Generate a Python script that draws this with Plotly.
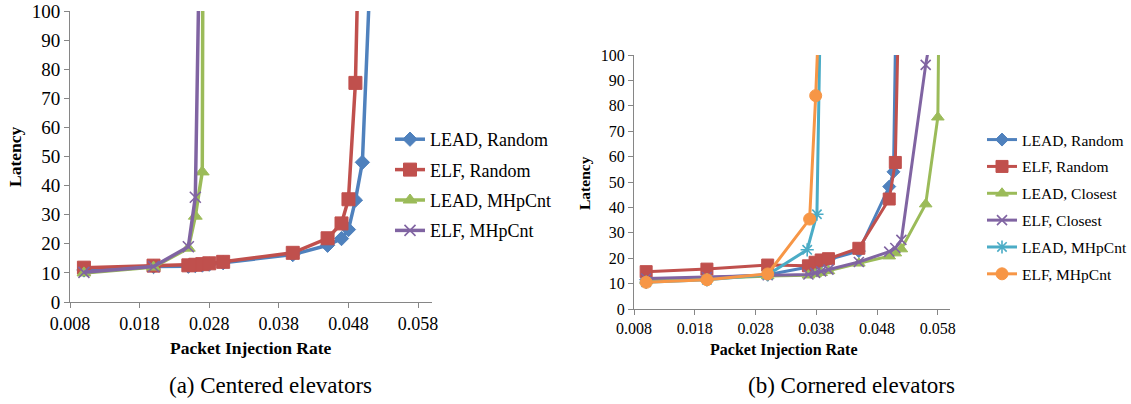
import plotly.graph_objects as go

W, H = 1131, 404
def fx(p): return p / W
def fy(p): return 1 - p / H

FONT = "'Liberation Serif', 'Times New Roman', Times, 'DejaVu Serif', serif"
BLUE, RED, GREEN, PURPLE, TEAL, ORANGE = "#4F81BD", "#C0504D", "#9BBB59", "#8064A2", "#4BACC6", "#F79646"
AX = "#868686"

# ---------------- (a) Centered elevators ----------------
a_lead_random_x = [0.010, 0.020, 0.025, 0.026, 0.027, 0.028, 0.030, 0.040, 0.045, 0.047, 0.048, 0.049, 0.050, 0.051]
a_lead_random_y = [11.0, 12.2, 12.3, 12.5, 12.7, 13.0, 13.5, 16.3, 19.5, 21.8, 24.9, 35.0, 48.0, 106]
a_elf_random_x = [0.010, 0.020, 0.025, 0.026, 0.027, 0.028, 0.030, 0.040, 0.045, 0.047, 0.048, 0.049, 0.050]
a_elf_random_y = [11.8, 12.5, 12.6, 12.8, 13.0, 13.3, 13.8, 16.9, 21.9, 27.0, 35.3, 75.3, 180]
a_lead_mhp_x = [0.010, 0.020, 0.025, 0.026, 0.027, 0.028]
a_lead_mhp_y = [10.0, 12.0, 18.5, 29.5, 44.7, 900]
a_elf_mhp_x = [0.010, 0.020, 0.025, 0.026, 0.027]
a_elf_mhp_y = [10.2, 12.2, 19.0, 36.0, 180]

# ---------------- (b) Cornered elevators ----------------
b_lead_random_x = [0.010, 0.020, 0.030, 0.0367, 0.0378, 0.0388, 0.040, 0.045, 0.050, 0.0507, 0.0515]
b_lead_random_y = [11.5, 12.3, 13.5, 16.5, 17.5, 18.5, 19.5, 22.8, 48.2, 54.0, 180]
b_elf_random_x = [0.010, 0.020, 0.030, 0.0367, 0.0378, 0.0388, 0.040, 0.045, 0.050, 0.051, 0.052]
b_elf_random_y = [14.7, 15.7, 17.3, 17.0, 18.4, 19.3, 19.8, 23.9, 43.3, 57.7, 170]
b_lead_closest_x = [0.010, 0.020, 0.030, 0.0367, 0.0378, 0.0388, 0.040, 0.045, 0.050, 0.051, 0.052, 0.056, 0.058, 0.059]
b_lead_closest_y = [11.0, 12.0, 13.0, 13.3, 13.8, 14.3, 15.0, 18.0, 20.8, 22.0, 23.6, 41.3, 75.5, 320]
b_elf_closest_x = [0.010, 0.020, 0.030, 0.0367, 0.0378, 0.0388, 0.040, 0.045, 0.050, 0.051, 0.052, 0.056, 0.057]
b_elf_closest_y = [12.0, 12.6, 13.3, 13.6, 14.2, 14.8, 15.5, 18.5, 22.6, 24.0, 27.2, 96.1, 110]
b_lead_mhp_x = [0.010, 0.020, 0.030, 0.0365, 0.0381, 0.039]
b_lead_mhp_y = [10.5, 11.5, 13.5, 23.3, 37.3, 165]
b_elf_mhp_x = [0.010, 0.020, 0.030, 0.0369, 0.0379, 0.039]
b_elf_mhp_y = [10.5, 11.5, 13.8, 35.4, 84.0, 150]

x_tickvals = [0.008, 0.018, 0.028, 0.038, 0.048, 0.058]
x_ticktext = ["0.008", "0.018", "0.028", "0.038", "0.048", "0.058"]
y_tickvals = [0, 10, 20, 30, 40, 50, 60, 70, 80, 90, 100]

def marker_style(sym, color, size):
    m = dict(symbol=sym, color=color, size=size, line=dict(color=color, width=1))
    if sym in ("x-thin", "asterisk"):
        m["line"] = dict(color=color, width=1.6)
    return m

fig = go.Figure()

series_a = [
    ("LEAD, Random", a_lead_random_x, a_lead_random_y, BLUE, "diamond", 11),
    ("ELF, Random", a_elf_random_x, a_elf_random_y, RED, "square", 13),
    ("LEAD, MHpCnt", a_lead_mhp_x, a_lead_mhp_y, GREEN, "triangle-up", 12),
    ("ELF, MHpCnt", a_elf_mhp_x, a_elf_mhp_y, PURPLE, "x-thin", 11),
]
for i, (name, xs, ys, col, sym, sz) in enumerate(series_a):
    fig.add_trace(go.Scatter(x=xs, y=ys, name=name, mode="lines+markers", xaxis="x", yaxis="y",
                             line=dict(color=col, width=3.5), marker=marker_style(sym, col, sz),
                             legend="legend", legendgroup="a%d" % i))

series_b = [
    ("LEAD, Random", b_lead_random_x, b_lead_random_y, BLUE, "diamond", 10),
    ("ELF, Random", b_elf_random_x, b_elf_random_y, RED, "square", 12),
    ("LEAD, Closest", b_lead_closest_x, b_lead_closest_y, GREEN, "triangle-up", 11),
    ("ELF, Closest", b_elf_closest_x, b_elf_closest_y, PURPLE, "x-thin", 10),
    ("LEAD, MHpCnt", b_lead_mhp_x, b_lead_mhp_y, TEAL, "asterisk", 11),
    ("ELF, MHpCnt", b_elf_mhp_x, b_elf_mhp_y, ORANGE, "circle", 12),
]
for i, (name, xs, ys, col, sym, sz) in enumerate(series_b):
    fig.add_trace(go.Scatter(x=xs, y=ys, name=name, mode="lines+markers", xaxis="x2", yaxis="y2",
                             line=dict(color=col, width=3), marker=marker_style(sym, col, sz),
                             legend="legend2", legendgroup="b%d" % i))

def xaxis(dom, anchor, fs):
    return dict(domain=dom, anchor=anchor, range=[0.008, 0.06], tickvals=x_tickvals, ticktext=x_ticktext,
                showgrid=False, zeroline=False, showline=True, linecolor=AX, linewidth=1, automargin=False,
                ticks="outside", ticklen=5, tickcolor=AX, tickfont=dict(family=FONT, size=fs, color="#000"))

def yaxis(dom, anchor, fs):
    return dict(domain=dom, anchor=anchor, range=[0, 100], tickvals=y_tickvals,
                showgrid=False, zeroline=False, showline=True, linecolor=AX, linewidth=1, automargin=False,
                ticks="outside", ticklen=5, tickcolor=AX, tickfont=dict(family=FONT, size=fs, color="#000"))

fig.update_layout(
    width=W, height=H, margin=dict(l=0, r=0, t=0, b=0, autoexpand=False),
    paper_bgcolor="white", plot_bgcolor="white",
    font=dict(family=FONT),
    xaxis=xaxis([fx(70), fx(432)], "y", 18),
    yaxis=yaxis([fy(302), fy(11)], "x", 19),
    xaxis2=xaxis([fx(634), fx(950)], "y2", 16),
    yaxis2=yaxis([fy(309), fy(55)], "x2", 16),
    legend=dict(x=fx(390), y=fy(121), xanchor="left", yanchor="top", tracegroupgap=4,
                font=dict(family=FONT, size=18, color="#000"), bgcolor="rgba(0,0,0,0)"),
    legend2=dict(x=fx(982), y=fy(123), xanchor="left", yanchor="top", tracegroupgap=3.7,
                 font=dict(family=FONT, size=15.5, color="#000"), bgcolor="rgba(0,0,0,0)"),
    showlegend=True,
)

def ann(text, x, y, size, bold=False, angle=0):
    t = "<b>%s</b>" % text if bold else text
    fig.add_annotation(text=t, x=fx(x), y=fy(y), xref="paper", yref="paper", showarrow=False,
                       xanchor="center", yanchor="middle", textangle=angle,
                       font=dict(family=FONT, size=size, color="#000"))

ann("Latency", 15, 157, 17.5, bold=True, angle=-90)
ann("Latency", 585, 183, 15.5, bold=True, angle=-90)
ann("Packet Injection Rate", 251, 348, 17.5, bold=True)
ann("Packet Injection Rate", 784, 350, 16, bold=True)
ann("(a) Centered elevators", 270, 385, 23)
ann("(b) Cornered elevators", 851, 385, 23)

fig.write_html("out.html")
